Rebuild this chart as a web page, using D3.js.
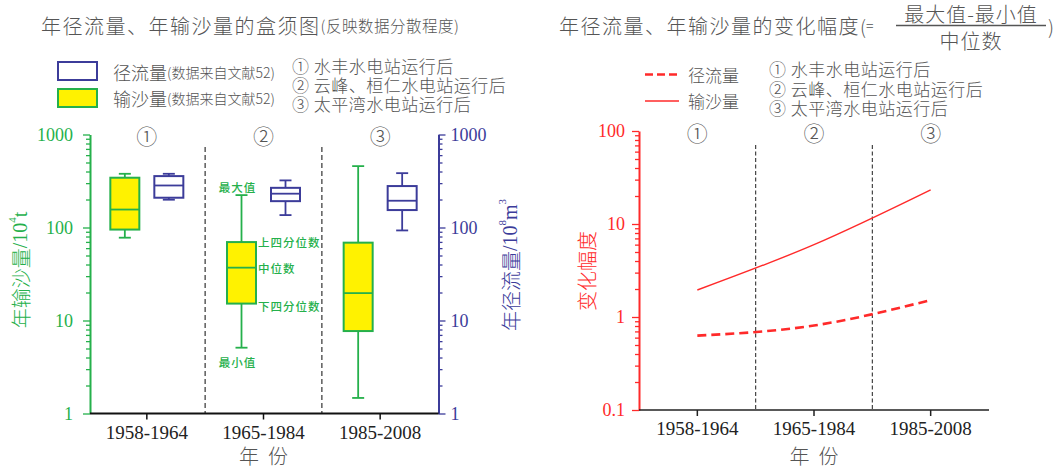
<!DOCTYPE html>
<html><head><meta charset="utf-8">
<script src="https://cdn.jsdelivr.net/npm/d3@7"></script>
<style>body{margin:0;background:#fff} svg{display:block}</style>
</head><body><svg id="c" width="1062" height="468"></svg>
<script>
// ---------------- data ----------------
const categories = ["1958-1964", "1965-1984", "1985-2008"];
const periodMarks = ["①", "②", "③"];
const periodNotes = ["水丰水电站运行后", "云峰、桓仁水电站运行后", "太平湾水电站运行后"];

// sediment load (10^4 t) box statistics
const sedimentMin    = [77.7, 5.1, 1.47];
const sedimentQ1     = [95, 15.2, 7.7];
const sedimentMedian = [156, 37, 19.7];
const sedimentQ3     = [343, 69.7, 68.7];
const sedimentMax    = [378, 223, 457];

// runoff (10^8 m3) box statistics
const runoffMin    = [199, 136, 93];
const runoffQ1     = [209, 192, 154];
const runoffMedian = [283, 231, 194];
const runoffQ3     = [357, 267, 279];
const runoffMax    = [378, 321, 384];

// variation amplitude = (max - min) / median
const runoffVariation   = [0.63, 0.81, 1.52];
const sedimentVariation = [1.95, 6.0, 23.3];

const boxTicks = [1, 10, 100, 1000];
const varTicks = [0.1, 1, 10, 100];
const boxNotes = ["最大值", "上四分位数", "中位数", "下四分位数", "最小值"];

// ---------------- style ----------------
const GREEN = "#25b04b", BLUE = "#3c3c9a", RED = "#ff2a2a", YELLOW = "#fff200", GRAY = "#555";
const CJK = "'Noto Sans CJK SC', 'Noto Sans', sans-serif";
const SERIF = "'Liberation Serif', 'Times New Roman', serif";
const LIGHT = 300;

const svg = d3.select("#c");

function isMajor(d) { return Math.abs(Math.log10(d) - Math.round(Math.log10(d))) < 1e-9; }

function styleAxis(g, color, fs) {
  g.select(".domain").attr("stroke", color).attr("stroke-width", 2);
  g.selectAll(".tick line").attr("stroke", color).attr("stroke-width", 1.3);
  g.selectAll(".tick text").attr("fill", color).attr("font-family", SERIF).attr("font-size", fs);
}

function stackedList(x, y0, step) {
  const t = svg.append("text").attr("font-family", CJK).attr("font-size", 17).attr("font-weight", LIGHT)
    .attr("letter-spacing", 0.5).attr("fill", GRAY).attr("dominant-baseline", "central");
  periodMarks.forEach((m, i) => {
    t.append("tspan").attr("x", x).attr("y", y0 + i * step).text(m + " " + periodNotes[i]);
  });
}

// ================= LEFT CHART =================
const xL = d3.scaleBand().domain(categories).range([88.5, 438.5]);
const ySed = d3.scaleLog().domain([1, 1000]).range([413.5, 134.5]);
const yRun = d3.scaleLog().domain([1, 1000]).range([413.5, 134.5]);
const bwL = xL.bandwidth();
const LEFT_AX = 90, RIGHT_AX = 438.5, BOT_L = 413.5;

// title
const tL = svg.append("text").attr("x", 41).attr("y", 25).attr("dominant-baseline", "central")
  .attr("font-family", CJK).attr("font-weight", LIGHT).attr("fill", GRAY);
tL.append("tspan").attr("font-size", 20).attr("letter-spacing", 1.5).text("年径流量、年输沙量的盒须图");
tL.append("tspan").attr("font-size", 15.5).attr("letter-spacing", 0.5).text("(反映数据分散程度)");

// legend
svg.append("rect").attr("x", 58).attr("y", 62).attr("width", 39).attr("height", 18)
  .attr("fill", "#fff").attr("stroke", BLUE).attr("stroke-width", 2);
svg.append("rect").attr("x", 58).attr("y", 89).attr("width", 39).attr("height", 18)
  .attr("fill", YELLOW).attr("stroke", GREEN).attr("stroke-width", 2);
[["径流量", 72], ["输沙量", 98]].forEach(([t, y]) => {
  const tx = svg.append("text").attr("x", 113).attr("y", y).attr("dominant-baseline", "central")
    .attr("font-family", CJK).attr("font-weight", LIGHT).attr("fill", GRAY);
  tx.append("tspan").attr("font-size", 18).text(t);
  tx.append("tspan").attr("font-size", 14).text("(数据来自文献52)");
});
stackedList(292, 65, 19);

// circled period marks
categories.forEach((c, i) => {
  svg.append("text").attr("x", xL(c) + bwL / 2).attr("y", 135).attr("text-anchor", "middle")
    .attr("dominant-baseline", "central").attr("font-family", CJK).attr("font-size", 21)
    .attr("font-weight", LIGHT).attr("fill", GRAY).text(periodMarks[i]);
});

// dividers
categories.slice(1).forEach(c => {
  svg.append("line").attr("x1", xL(c)).attr("x2", xL(c)).attr("y1", 147).attr("y2", BOT_L)
    .attr("stroke", "#666").attr("stroke-width", 1.6).attr("stroke-dasharray", "5,3");
});

// axes
const gLA = svg.append("g").attr("transform", `translate(${LEFT_AX},0)`)
  .call(d3.axisLeft(ySed).tickValues(boxTicks).tickSize(7).tickSizeOuter(0).tickPadding(10).tickFormat(d3.format("d")));
styleAxis(gLA, GREEN, 18);
svg.append("g").attr("transform", `translate(${LEFT_AX},0)`)
  .call(d3.axisLeft(ySed).tickValues(ySed.ticks().filter(d => !isMajor(d))).tickSize(4).tickFormat(""))
  .call(g => { g.select(".domain").remove(); g.selectAll("line").attr("stroke", GREEN).attr("stroke-width", 1.3); });

const gRA = svg.append("g").attr("transform", `translate(${RIGHT_AX},0)`)
  .call(d3.axisRight(yRun).tickValues(boxTicks).tickSize(7).tickSizeOuter(0).tickPadding(5).tickFormat(d3.format("d")));
styleAxis(gRA, BLUE, 18);
svg.append("g").attr("transform", `translate(${RIGHT_AX},0)`)
  .call(d3.axisRight(yRun).tickValues(yRun.ticks().filter(d => !isMajor(d))).tickSize(4).tickFormat(""))
  .call(g => { g.select(".domain").remove(); g.selectAll("line").attr("stroke", BLUE).attr("stroke-width", 1.3); });

const gLB = svg.append("g").attr("transform", `translate(0,${BOT_L})`)
  .call(d3.axisBottom(xL).tickSize(6).tickSizeOuter(0).tickPadding(6));
gLB.select(".domain").attr("stroke", "#111").attr("stroke-width", 2).attr("d", `M${LEFT_AX},0H${RIGHT_AX}`);
gLB.selectAll(".tick line").attr("stroke", "#111").attr("stroke-width", 1.5);
gLB.selectAll(".tick text").attr("fill", "#222").attr("font-family", SERIF).attr("font-size", 19);

svg.append("text").attr("x", xL(categories[1]) + bwL / 2).attr("y", 455).attr("text-anchor", "middle")
  .attr("dominant-baseline", "central").attr("font-family", CJK).attr("font-size", 20).attr("font-weight", LIGHT)
  .attr("fill", GRAY).attr("xml:space", "preserve").text("年  份");

// y labels
const ylab = svg.append("text").attr("transform", "translate(20,270) rotate(-90)").attr("text-anchor", "middle")
  .attr("dominant-baseline", "central").attr("fill", GREEN).attr("font-size", 20);
ylab.append("tspan").attr("font-family", CJK).attr("font-weight", LIGHT).text("年输沙量");
ylab.append("tspan").attr("font-family", SERIF).text("/10");
ylab.append("tspan").attr("font-family", SERIF).attr("font-size", 11).attr("dy", -8).text("4");
ylab.append("tspan").attr("font-family", SERIF).attr("dy", 8).text("t");

const yrab = svg.append("text").attr("transform", "translate(510,265) rotate(-90)").attr("text-anchor", "middle")
  .attr("dominant-baseline", "central").attr("fill", BLUE).attr("font-size", 20);
yrab.append("tspan").attr("font-family", CJK).attr("font-weight", LIGHT).text("年径流量");
yrab.append("tspan").attr("font-family", SERIF).text("/10");
yrab.append("tspan").attr("font-family", SERIF).attr("font-size", 11).attr("dy", -8).text("8");
yrab.append("tspan").attr("font-family", SERIF).attr("dy", 8).text("m");
yrab.append("tspan").attr("font-family", SERIF).attr("font-size", 11).attr("dy", -8).text("3");

// boxes
const BOXW = 29, CAPW = 12, OFF = 22;
function drawBox(cx, y, mn, q1, md, q3, mx, stroke, fill) {
  const g = svg.append("g").attr("stroke", stroke).attr("stroke-width", 1.8).attr("fill", "none");
  g.append("line").attr("x1", cx).attr("x2", cx).attr("y1", y(mx)).attr("y2", y(q3));
  g.append("line").attr("x1", cx).attr("x2", cx).attr("y1", y(q1)).attr("y2", y(mn));
  g.append("line").attr("x1", cx - CAPW / 2).attr("x2", cx + CAPW / 2).attr("y1", y(mx)).attr("y2", y(mx));
  g.append("line").attr("x1", cx - CAPW / 2).attr("x2", cx + CAPW / 2).attr("y1", y(mn)).attr("y2", y(mn));
  g.append("rect").attr("x", cx - BOXW / 2).attr("y", y(q3)).attr("width", BOXW).attr("height", y(q1) - y(q3))
    .attr("fill", fill).attr("stroke-width", 2);
  g.append("line").attr("x1", cx - BOXW / 2).attr("x2", cx + BOXW / 2).attr("y1", y(md)).attr("y2", y(md));
}
categories.forEach((c, i) => {
  const cx = xL(c) + bwL / 2;
  drawBox(cx - OFF, ySed, sedimentMin[i], sedimentQ1[i], sedimentMedian[i], sedimentQ3[i], sedimentMax[i], GREEN, YELLOW);
  drawBox(cx + OFF, yRun, runoffMin[i], runoffQ1[i], runoffMedian[i], runoffQ3[i], runoffMax[i], BLUE, "#fff");
});

// annotations on second sediment box
{
  const i = 1, cx = xL(categories[1]) + bwL / 2 - OFF;
  const noteVals = [sedimentMax[i], sedimentQ3[i], sedimentMedian[i], sedimentQ1[i], sedimentMin[i]];
  const ann = (t, x, y, anchor) => svg.append("text").attr("x", x).attr("y", y).attr("text-anchor", anchor)
    .attr("dominant-baseline", "central").attr("font-family", CJK).attr("font-size", 11.5)
    .attr("font-weight", 500).attr("letter-spacing", 1).attr("fill", GREEN).text(t);
  ann(boxNotes[0], cx - 4, ySed(noteVals[0]) - 8, "middle");
  ann(boxNotes[1], cx + BOXW / 2 + 2, ySed(noteVals[1]), "start");
  ann(boxNotes[2], cx + BOXW / 2 + 2, ySed(noteVals[2]), "start");
  ann(boxNotes[3], cx + BOXW / 2 + 2, ySed(noteVals[3]) + 2, "start");
  ann(boxNotes[4], cx - 4, ySed(noteVals[4]) + 14, "middle");
}

// ================= RIGHT CHART =================
const xR = d3.scaleBand().domain(categories).range([639, 989]);
const yV = d3.scaleLog().domain([0.1, 100]).range([410, 131]);
const bwR = xR.bandwidth();
const AX_R = 639, BOT_R = 410;

// title
const tR = svg.append("text").attr("x", 559).attr("y", 25).attr("dominant-baseline", "central")
  .attr("font-family", CJK).attr("font-weight", LIGHT).attr("fill", GRAY);
tR.append("tspan").attr("font-size", 20).attr("letter-spacing", 1.5).text("年径流量、年输沙量的变化幅度");
tR.append("tspan").attr("font-size", 19).text("(");
tR.append("tspan").attr("font-size", 14).text("=");
svg.append("line").attr("x1", 896).attr("x2", 1046).attr("y1", 25.5).attr("y2", 25.5).attr("stroke", GRAY).attr("stroke-width", 1.3);
svg.append("text").attr("x", 971).attr("y", 13).attr("text-anchor", "middle").attr("dominant-baseline", "central")
  .attr("font-family", CJK).attr("font-size", 20).attr("font-weight", LIGHT).attr("letter-spacing", 1).attr("fill", GRAY).text("最大值-最小值");
svg.append("text").attr("x", 971).attr("y", 40.5).attr("text-anchor", "middle").attr("dominant-baseline", "central")
  .attr("font-family", CJK).attr("font-size", 20).attr("font-weight", LIGHT).attr("letter-spacing", 1).attr("fill", GRAY).text("中位数");
svg.append("text").attr("x", 1048).attr("y", 25).attr("dominant-baseline", "central")
  .attr("font-family", CJK).attr("font-size", 19).attr("font-weight", LIGHT).attr("fill", GRAY).text(")");

// legend
svg.append("line").attr("x1", 645).attr("x2", 679).attr("y1", 74.5).attr("y2", 74.5)
  .attr("stroke", RED).attr("stroke-width", 2.6).attr("stroke-dasharray", "8,4");
svg.append("line").attr("x1", 645).attr("x2", 679).attr("y1", 101).attr("y2", 101)
  .attr("stroke", RED).attr("stroke-width", 1.3);
[["径流量", 74], ["输沙量", 100.5]].forEach(([t, y]) => {
  svg.append("text").attr("x", 688).attr("y", y).attr("dominant-baseline", "central")
    .attr("font-family", CJK).attr("font-size", 17).attr("font-weight", LIGHT).attr("fill", GRAY).text(t);
});
stackedList(769, 68, 19.5);

categories.forEach((c, i) => {
  svg.append("text").attr("x", xR(c) + bwR / 2).attr("y", 132).attr("text-anchor", "middle")
    .attr("dominant-baseline", "central").attr("font-family", CJK).attr("font-size", 21)
    .attr("font-weight", LIGHT).attr("fill", GRAY).text(periodMarks[i]);
});

categories.slice(1).forEach(c => {
  svg.append("line").attr("x1", xR(c)).attr("x2", xR(c)).attr("y1", 145).attr("y2", BOT_R)
    .attr("stroke", "#333").attr("stroke-width", 1.1).attr("stroke-dasharray", "4,2.5");
});

const gVA = svg.append("g").attr("transform", `translate(${AX_R},0)`)
  .call(d3.axisLeft(yV).tickValues(varTicks).tickSize(7).tickSizeOuter(0).tickPadding(7).tickFormat(d => String(d)));
styleAxis(gVA, RED, 18);
svg.append("g").attr("transform", `translate(${AX_R},0)`)
  .call(d3.axisLeft(yV).tickValues(yV.ticks().filter(d => !isMajor(d))).tickSize(4).tickFormat(""))
  .call(g => { g.select(".domain").remove(); g.selectAll("line").attr("stroke", RED).attr("stroke-width", 1.3); });

const gVB = svg.append("g").attr("transform", `translate(0,${BOT_R})`)
  .call(d3.axisBottom(xR).tickSize(6).tickSizeOuter(0).tickPadding(6));
gVB.select(".domain").attr("stroke", "#222").attr("stroke-width", 1.6).attr("d", `M${AX_R},0H989`);
gVB.selectAll(".tick line").attr("stroke", "#222").attr("stroke-width", 1.5);
gVB.selectAll(".tick text").attr("fill", "#222").attr("font-family", SERIF).attr("font-size", 19);

svg.append("text").attr("x", xR(categories[1]) + bwR / 2).attr("y", 455).attr("text-anchor", "middle")
  .attr("dominant-baseline", "central").attr("font-family", CJK).attr("font-size", 20).attr("font-weight", LIGHT)
  .attr("fill", GRAY).attr("xml:space", "preserve").text("年  份");

svg.append("text").attr("transform", "translate(586,271) rotate(-90)").attr("text-anchor", "middle")
  .attr("dominant-baseline", "central").attr("font-family", CJK).attr("font-size", 20).attr("font-weight", LIGHT)
  .attr("fill", RED).text("变化幅度");

const lineGen = d3.line().x((d, i) => xR(categories[i]) + bwR / 2).y(d => yV(d)).curve(d3.curveNatural);
svg.append("path").attr("d", lineGen(sedimentVariation)).attr("fill", "none")
  .attr("stroke", RED).attr("stroke-width", 1.4);
svg.append("path").attr("d", lineGen(runoffVariation)).attr("fill", "none")
  .attr("stroke", RED).attr("stroke-width", 2.6).attr("stroke-dasharray", "9,5");
</script></body></html>
